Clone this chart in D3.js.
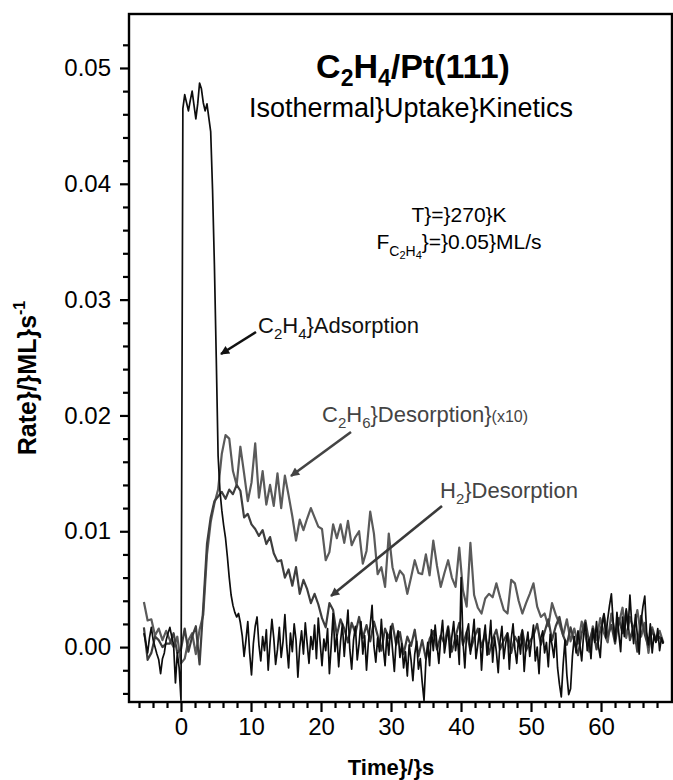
<!DOCTYPE html>
<html>
<head>
<meta charset="utf-8">
<script src="https://cdn.jsdelivr.net/npm/d3@7"></script>
<style>
  body{margin:0;background:#fff}
  svg{display:block;font-family:"Liberation Sans",Arial,Helvetica,sans-serif}
</style>
</head>
<body>
<div id="chart"></div>
<script>
// rates are in units of 1e-3 ML/s
const c2h4_t0 = -5.3, c2h4_dt = 0.265
const c2h4_rate = [
  1.2, 0.4, -0.5, 0.8,   1.7, 0.6, 0.0, -0.6,   -1.1, -2.3, -1.0, -0.5,
  0.6, 1.2, 1.7, 0.9,    0.2, -3.1, -0.5, -1.8,
  -4.6, 46.5, 47.7, 47.0,  46.3, 47.2, 48.0, 46.8,  45.6, 46.9, 48.7, 48.2,
  47.0, 46.3, 46.9, 45.7,  44.5, 39.5, 33.0, 25.0,  16.5, 13.5, 11.8, 10.5,
  9.4, 7.8, 6.0, 4.5,    3.6, 3.0, 2.6, 2.9,    2.1,
  1.0, -0.8, 0.6, 2.2,   -0.5, -2.4, 0.3, 1.8,  2.6, 0.2, -1.2, 0.9,
  -0.3, 1.5, -2.0, 0.4,  2.4, 0.8, -1.5, -0.2,  1.7, -0.9, 0.5, 2.8,
  0.1, -1.8, 1.2, -0.4,  2.0, 0.6, -2.6, 0.0,   1.4, -0.6, 2.1, 0.3,
  -1.4, 0.9, -0.2, 1.9,  -1.0, 2.5, 0.4, -1.6,  0.7, -0.3, 1.6, -2.3,
  0.2, 2.9, -0.4, 1.1,   -1.7, 0.5, 2.0, -0.8,  1.3, 3.2, -0.2, -1.9,
  0.6, 1.8, -1.1, 0.3,   2.2, -0.6, 1.0, -2.0,  0.4, 1.9, 3.6, 0.1,
  -1.3, 0.8, -0.4, 2.4,  0.0, -1.6, 1.2, -0.7,  1.8, -0.2, -2.1, 0.6,
  1.4, -0.9, 0.3, -1.8,  -0.4, -2.5, 0.2, -1.1, -2.9, -0.6, 0.5, -1.9,
  -1.0, -3.0, -4.6, -1.2, 0.4, -1.6, 1.5, -0.3, 1.9, 0.2, -1.4, 0.8,
  2.3, -0.5, 0.6, 1.7,   -0.9, 0.9, 2.2, -0.3,  1.0, -1.5, 6.0, 0.5,
  -1.8, 1.3, 2.0, -0.6,  0.8, 2.4, -1.0, 0.2,   1.6, -2.0, 0.6, 1.9,
  -0.7, 0.4, 2.3, -1.3,  0.9, -0.4, -2.2, 0.5,  1.8, -1.0, 0.3, 1.2,
  -1.9, 0.7, 2.0, -0.2,  -1.4, 0.9, -0.6, 1.5,  -2.1, 0.1, 1.3, -0.8,
  0.6, 1.9, -1.2, 0.0,   -2.3, 0.8, 1.4, -0.5,  0.4, -1.7, 1.1, 0.2,
  -0.9, 1.2, -1.8, -3.2, -4.3, -1.5, 0.6, -2.4, -4.1, -3.6, -0.8, 0.9,
  -0.5, 1.4, 0.2, -1.2,  1.0, 2.1, -0.3, 0.7,   -1.0, 1.6, 0.4, 2.2,
  0.1, -0.9, 1.8, 2.9,   0.8, 2.4, 3.6, 4.6,    2.1, 0.5, 3.0, 1.2,
  -0.4, 2.6, 0.9, 3.3,   1.5, 4.5, 2.0, 0.3,    2.8, 1.0, -0.6, 2.2,
  3.5, 4.4, 1.3, 0.2,    2.0, -0.5, 1.1, 0.4,   1.6, -0.3, 0.8, 0.3
]

const gas_t0 = -5.3, gas_dt = 0.53
const c2h6_rate = [   // x10
  3.9, 2.3, 2.4, 1.0, 1.6, 0.6, 1.4, 0.6, 0.0, 0.9,
  -1.4, -1.0, 0.6, 1.2, -0.6, 1.5, 2.8, 8.0, 10.8, 12.4,
  13.6, 16.7, 18.3, 18.0, 15.2, 14.0, 17.3, 15.0, 12.6, 14.2,
  17.6, 12.9, 15.2, 12.3, 14.0, 12.2, 15.0, 12.0, 14.8, 13.1,
  11.3, 9.2, 11.0, 10.1, 11.1, 12.0, 11.2, 10.4, 10.2, 7.5,
  8.2, 10.6, 9.4, 10.6, 9.0, 10.9, 8.8, 9.5, 10.0, 7.2,
  8.3, 11.7, 9.8, 6.3, 6.9, 5.2, 9.8, 6.9, 5.7, 6.6,
  6.2, 4.6, 6.0, 7.5, 6.4, 6.3, 8.0, 6.2, 9.2, 7.0,
  5.2, 6.4, 7.5, 6.0, 5.2, 8.6, 4.9, 3.5, 9.0, 4.5,
  3.4, 2.9, 4.2, 4.6, 4.3, 5.5, 4.3, 3.2, 2.9, 5.8,
  5.5, 4.0, 2.9, 3.8, 4.6, 5.5, 3.5, 2.6, 2.9, 1.8,
  3.8, 2.8, 2.0, 1.0, 2.4, 0.5, 1.6, 0.3, 2.2, 1.0,
  -0.4, 1.8, 0.6, 2.5, 1.2, 0.4, 2.9, 1.1, 2.0, 3.4,
  0.8, 2.6, 1.5, 3.2, 0.9, 2.1, -0.5, 1.7, 0.6, 1.4,
  0.4
]
const h2_rate = [
  1.7, -1.1, -0.5, 0.9, 0.6, 0.0, 0.3, 0.3, 1.2, -0.5,
  -0.2, 1.6, -0.4, 0.9, 1.8, -1.5, 3.5, 8.9, 11.2, 12.6,
  13.0, 13.4, 12.8, 13.6, 13.2, 14.0, 13.5, 11.2, 11.5, 10.6,
  10.2, 9.6, 10.1, 8.9, 9.5, 8.1, 7.4, 7.5, 6.0, 6.7,
  5.3, 6.9, 4.6, 5.8, 5.0, 3.8, 4.6, 3.7, 2.5, 1.7,
  3.8, 3.2, 1.0, 2.4, 1.6, 0.4, 2.1, 1.2, 2.6, 0.8,
  1.9, 0.5, 2.2, 1.0, -0.3, 1.6, 0.8, 2.0, 0.2, 1.3,
  -0.6, 0.9, 0.1, 1.5, -0.8, 0.6, -1.0, 0.7, 1.4, -0.2,
  1.0, 0.3, 1.8, -0.4, 0.9, 2.1, 0.2, 1.3, -0.3, 0.8,
  1.6, 0.0, 1.1, -0.6, 0.7, 1.5, -0.2, 0.6, 1.2, -0.5,
  0.9, 0.3, 1.4, -0.3, 0.5, 1.0, 2.0, 0.2, 1.3, 2.4,
  0.6, 1.8, 2.6, 1.0, 0.2, 1.7, 0.5, -0.7, 1.2, 2.3,
  0.4, 1.6, -0.2, 1.4, 2.8, 0.9, 1.9, 0.3, 2.5, 1.2,
  3.1, 0.6, 1.8, -0.4, 2.7, 1.1, 0.0, 1.5, 0.5, 0.9,
  0.3
]

const x_ticks = [0, 10, 20, 30, 40, 50, 60]
const y_ticks = [0, 10, 20, 30, 40, 50]

const width = 673, height = 780
const plot = {left: 129, right: 672, top: 14, bottom: 702}

const svg = d3.select('#chart').append('svg')
  .attr('width', width)
  .attr('height', height)
  .attr('viewBox', '0,0,' + width + ',' + height)

const x = d3.scaleLinear().domain([-7.43, 70.14]).range([plot.left, plot.right])
const y = d3.scaleLinear().domain([-4.74, 54.66]).range([plot.bottom, plot.top])

svg.append('defs').append('clipPath').attr('id', 'clip')
  .append('rect')
    .attr('x', plot.left).attr('y', plot.top)
    .attr('width', plot.right - plot.left).attr('height', plot.bottom - plot.top)

// minor ticks first, majors on top
const minor_x = d3.range(-6, 70, 2).filter(d => d % 10 != 0)
const minor_y = d3.range(-4, 54, 2).filter(d => d % 10 != 0)

const style_axis = g => {
  g.select('.domain').remove()
  g.selectAll('.tick line').attr('stroke', '#000').attr('stroke-width', 2.2)
  g.selectAll('.tick text')
    .attr('fill', '#000')
    .style('font-size', '24px')
    .style('font-family', '"Liberation Sans",Arial,sans-serif')
}

svg.append('g')
  .attr('transform', `translate(0,${plot.bottom})`)
  .call(d3.axisBottom(x).tickValues(minor_x).tickSize(6).tickFormat(''))
  .call(style_axis)
svg.append('g')
  .attr('transform', `translate(0,${plot.bottom})`)
  .call(d3.axisBottom(x).tickValues(x_ticks).tickSize(10).tickPadding(6).tickFormat(d3.format('d')))
  .call(style_axis)

svg.append('g')
  .attr('transform', `translate(${plot.left},0)`)
  .call(d3.axisLeft(y).tickValues(minor_y).tickSize(6).tickFormat(''))
  .call(style_axis)
svg.append('g')
  .attr('transform', `translate(${plot.left},0)`)
  .call(d3.axisLeft(y).tickValues(y_ticks).tickSize(9).tickPadding(9).tickFormat(d => (d / 1000).toFixed(2)))
  .call(style_axis)

// data traces
const trace = (values, t0, dt) => d3.line()
  .x((d, i) => x(t0 + i * dt))
  .y(d => y(d))(values)

const traces = svg.append('g').attr('clip-path', 'url(#clip)').attr('fill', 'none')
  .attr('stroke-linejoin', 'round')
traces.append('path')
  .attr('d', trace(c2h6_rate, gas_t0, gas_dt))
  .attr('stroke', '#5a5a5a').attr('stroke-width', 2.2)
traces.append('path')
  .attr('d', trace(h2_rate, gas_t0, gas_dt))
  .attr('stroke', '#3e3e3e').attr('stroke-width', 2.2)
traces.append('path')
  .attr('d', trace(c2h4_rate, c2h4_t0, c2h4_dt))
  .attr('stroke', '#0d0d0d').attr('stroke-width', 1.7)

// frame
svg.append('rect')
  .attr('x', plot.left).attr('y', plot.top)
  .attr('width', plot.right - plot.left).attr('height', plot.bottom - plot.top)
  .attr('fill', 'none').attr('stroke', '#000').attr('stroke-width', 2.4)

// text with sub/superscripts: parts = [text, size, offset]
function rich(px, py, parts, opts){
  const t = svg.append('text')
    .attr('x', px).attr('y', py)
    .attr('text-anchor', opts.anchor || 'start')
    .attr('fill', opts.color || '#000')
    .attr('font-weight', opts.weight || 'normal')
  if(opts.family) t.style('font-family', opts.family)
  if(opts.transform) t.attr('transform', opts.transform)
  let cur = 0
  parts.forEach(([s, size, off]) => {
    t.append('tspan')
      .attr('dy', off - cur)
      .style('font-size', size + 'px')
      .text(s)
    cur = off
  })
  return t
}

rich(413, 78, [['C', 34, 0], ['2', 23, 8], ['H', 34, 0], ['4', 23, 8], ['/Pt(111)', 34, 0]],
  {anchor: 'middle', weight: 'bold'})
rich(411, 117, [['Isothermal}Uptake}Kinetics', 27, 0]], {anchor: 'middle'})
rich(459, 222, [['T}=}270}K', 21, 0]], {anchor: 'middle'})
rich(459, 249, [['F', 21, 0], ['C', 14, 7], ['2', 11, 10], ['H', 14, 7], ['4', 11, 10], ['}=}0.05}ML/s', 21, 0]],
  {anchor: 'middle'})

rich(258, 333, [['C', 22, 0], ['2', 15, 6], ['H', 22, 0], ['4', 15, 6], ['}Adsorption', 22, 0]], {color: '#111'})
rich(322, 422, [['C', 22, 0], ['2', 15, 6], ['H', 22, 0], ['6', 15, 6], ['}Desorption}', 22, 0], ['(x10)', 16, 0]],
  {color: '#444'})
rich(440, 498, [['H', 22, 0], ['2', 15, 6], ['}Desorption', 22, 0]], {color: '#444'})

// axis titles
rich(391, 775, [['Time}/}s', 22, 0]], {anchor: 'middle', weight: 'bold'})
rich(0, 0, [['Rate}/}ML}s', 25, 0], ['-1', 16, -11]],
  {anchor: 'middle', weight: 'bold', transform: 'translate(36,378) rotate(-90)',
   family: '"Liberation Sans Narrow","Liberation Sans",Arial,sans-serif'})

// arrows
const defs = svg.select('defs')
const arrows = [
  {from: [256, 332], to: [221, 354], color: '#111'},
  {from: [351, 432], to: [291, 476], color: '#444'},
  {from: [442, 506], to: [331, 596], color: '#3a3a3a'}
]
arrows.forEach((a, i) => {
  defs.append('marker')
    .attr('id', 'head' + i)
    .attr('viewBox', '0 0 10 10')
    .attr('refX', 9).attr('refY', 5)
    .attr('markerUnits', 'userSpaceOnUse')
    .attr('markerWidth', 14).attr('markerHeight', 9)
    .attr('orient', 'auto')
    .append('path').attr('d', 'M0,0L10,5L0,10Z').attr('fill', a.color)
  svg.append('line')
    .attr('x1', a.from[0]).attr('y1', a.from[1])
    .attr('x2', a.to[0]).attr('y2', a.to[1])
    .attr('stroke', a.color).attr('stroke-width', 2.6)
    .attr('marker-end', `url(#head${i})`)
})
</script>
</body>
</html>
